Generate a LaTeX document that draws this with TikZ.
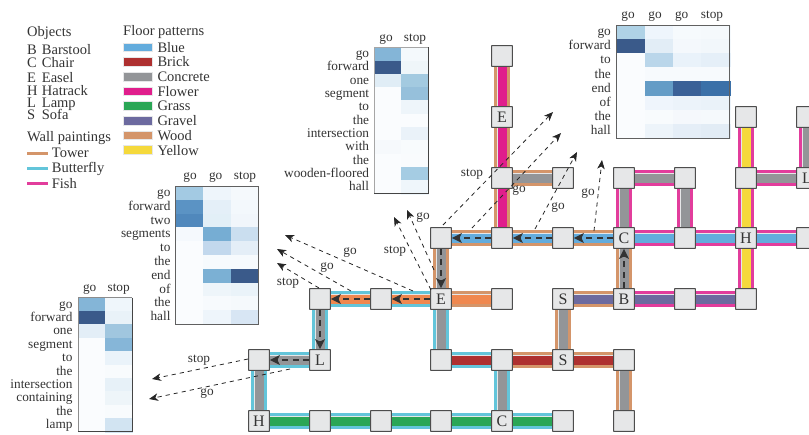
\documentclass[tikz,border=0pt]{standalone}
\usepackage{fontspec}
\setmainfont{Liberation Serif}
\usetikzlibrary{arrows.meta,calc}
\definecolor{txt}{HTML}{333333}
\definecolor{tower}{HTML}{D4956A}
\definecolor{butterfly}{HTML}{63C5DA}
\definecolor{fish}{HTML}{E23D9C}
\definecolor{fblue}{HTML}{63ACDD}
\definecolor{fbrick}{HTML}{AE3030}
\definecolor{fconcrete}{HTML}{939598}
\definecolor{fflower}{HTML}{E01E8C}
\definecolor{fgrass}{HTML}{2AA655}
\definecolor{fgravel}{HTML}{6C6A9F}
\definecolor{fwood}{HTML}{D4956A}
\definecolor{forange}{HTML}{F0884F}
\definecolor{fyellow}{HTML}{F5D93C}
\definecolor{halo}{HTML}{E6E7E8}
\definecolor{roomfill}{HTML}{E6E7E8}
\definecolor{roomline}{HTML}{4D4D4D}
\definecolor{hdark}{HTML}{444444}
\pgfdeclarelayer{corridors}
\pgfsetlayers{corridors,main}
\tikzset{
  x=1pt,y=-1pt,
  every node/.style={text=txt},
  room/.style={draw=roomline,fill=roomfill,line width=1.1pt,minimum size=20.7pt,inner sep=0pt,rounded corners=0.3pt,
    font=\fontsize{16}{16}\selectfont},
  legendhead/.style={anchor=base west,inner sep=0pt,font=\fontsize{14.5}{16}\selectfont},
  legendtext/.style={anchor=base west,inner sep=0pt,font=\fontsize{14.5}{16}\selectfont},
  hword/.style={anchor=base east,inner sep=0pt,font=\fontsize{13.3}{15}\selectfont},
  hhead/.style={anchor=base,inner sep=0pt,font=\fontsize{13.3}{15}\selectfont},
  tag/.style={inner sep=0pt,font=\fontsize{13.3}{15}\selectfont},
  route/.style={draw=black!80,line width=1.5pt,dash pattern=on 6pt off 4.5pt,
    -{Stealth[length=10pt,width=10pt,inset=2.5pt]}},
  link/.style={draw=black!85,line width=0.8pt,dash pattern=on 4.2pt off 4pt,
    -{Stealth[length=9pt,width=7.5pt,inset=2.5pt]}},
}
\newcommand{\corr}[4]{%
  \draw[#1,line width=15.8pt] (#3.center) -- (#4.center);
  \draw[halo,line width=10.8pt] (#3.center) -- (#4.center);
  \draw[#2,line width=9pt] (#3.center) -- (#4.center);
}
\newcommand{\hmap}[7]{%
  \foreach \w/\cs [count=\r from 0] in {#7}{%
    \foreach \c [count=\i from 0] in \cs {%
      \definecolor{hc}{HTML}{\c}%
      \fill[hc,draw=hc,line width=0.1pt] ({#2+\i*#4},{#3+\r*#5}) rectangle +(#4,#5);
    }
    \node[hword] (#1w\r) at (#6,{#3+(\r+.5)*#5+3.6}) {\w};
  }
}
\begin{document}
\begin{tikzpicture}
\useasboundingbox (0,0) rectangle (809,434);

% ---------- legend
\node[legendhead] (lobj) at (27,36) {Objects};
\foreach \l/\n/\y [count=\k] in {B/Barstool/54,C/Chair/67.5,E/Easel/82,H/Hatrack/95,L/Lamp/107,S/Sofa/119}{
  \node[legendtext] (lol\k) at (27,\y) {\l};
  \node[legendtext] (lon\k) at (41.7,\y) {\n};
}
\node[legendhead] (lwall) at (27,141) {Wall paintings};
\foreach \n/\c/\ly/\y [count=\k] in {Tower/tower/153/157.5,Butterfly/butterfly/168/172.5,Fish/fish/183/188}{
  \draw[\c,line width=3pt] (27,\ly) -- (48,\ly);
  \node[legendtext] (lwn\k) at (51.7,\y) {\n};
}
\node[legendhead] (lfloor) at (123,35) {Floor patterns};
\foreach \n/\c/\ly/\y [count=\k] in {Blue/fblue/47.3/52,Brick/fbrick/62/66.7,Concrete/fconcrete/76.7/81.5,Flower/fflower/91.3/96,Grass/fgrass/106/110.5,Gravel/fgravel/120.7/125,Wood/fwood/135.3/140,Yellow/fyellow/150/155}{
  \fill[\c,draw=halo,line width=0.9pt] (123.5,{\ly-4.3}) rectangle (152.7,{\ly+4.3});
  \node[legendtext] (lfn\k) at (157.3,\y) {\n};
}

% ---------- heat maps
\hmap{ha}{78.3}{297.7}{26.85}{13.4}{72.7}{%
  go/{84B5D7,EFF6FB},forward/{3A5A8A,E9F2F8},one/{E3EEF7,A0C6DF},segment/{FAFCFE,86B6D8},to/{FAFCFE,EAF3FA},%
  the/{FAFCFE,F8FBFD},intersection/{FAFCFE,E7F1F8},containing/{FAFCFE,EEF5F9},the/{FAFCFE,F8FBFD},lamp/{FAFCFE,D2E4F2}}
\draw[black!45,line width=0.9pt] (78.3,431.7) -- (78.3,297.7) -- (132,297.7);
\draw[hdark,line width=1pt] (132,297.7) -- (132,431.7) -- (78.3,431.7);
\node[hhead] (hah1) at (89.7,291.5) {go};
\node[hhead] (hah2) at (118.7,291.5) {stop};

\hmap{hb}{175.7}{186}{27.53}{13.8}{170.7}{%
  go/{A3CAE3,EEF5FB,F5F9FC},forward/{5B93C4,E4EFF8,F3F8FC},two/{5088BC,E2EFF7,F1F6FB},segments/{F5F9FD,76ADD3,CADEEF},%
  to/{FAFCFE,C2D8ED,E4EEF7},the/{FAFCFE,F6FAFD,F6FAFD},end/{FAFCFE,7BB0D4,3A5A8A},of/{FAFCFE,EEF5FA,EAF3F9},%
  the/{FAFCFE,F7FAFD,F5F9FC},hall/{FAFCFE,EEF5FB,D8E6F4}}
\draw[hdark!85,line width=1pt] (175.7,186) rectangle (258.3,324);
\node[hhead] (hbh1) at (190,179.5) {go};
\node[hhead] (hbh2) at (215.7,179.5) {go};
\node[hhead] (hbh3) at (245,179.5) {stop};

\hmap{hc}{374.3}{47.3}{26.85}{13.31}{369.3}{%
  go/{84B5D7,F4F9FC},forward/{3A5A8A,EFF6F9},one/{E0EDF6,A3CAE0},segment/{FAFCFE,96C0DB},to/{FAFCFE,EEF5FA},the/{FAFCFE,FAFCFE},%
  intersection/{FAFCFE,EAF2F9},with/{F6F9FC,F8FBFD},the/{FAFCFE,F9FBFD},wooden-floored/{FAFCFE,A5CCE3},hall/{FAFCFE,EFF6FB}}
\draw[black!35,line width=0.9pt] (374.3,193.7) -- (374.3,47.3) -- (428,47.3);
\draw[hdark,line width=1pt] (428,47.3) -- (428,193.7) -- (374.3,193.7);
\node[hhead] (hch1) at (386,41) {go};
\node[hhead] (hch2) at (415,41) {stop};

\hmap{hd}{616.7}{25}{28.25}{14.125}{611}{%
  go/{AFD2E6,EEF5FC,F6FAFD,F5F9FC},forward/{3A5A8A,E2EDF6,F4F8FC,F2F7FB},to/{FAFCFE,BAD6EA,E9F2FA,E5EFF8},the/{FAFCFE,F7FAFD,F7FAFD,F7FAFD},%
  end/{FAFCFE,649CC6,3B6197,3B70A8},of/{FAFCFE,EFF5FC,ECF3FA,EAF2F9},the/{FAFCFE,F8FBFD,F5F8FC,F5F9FC},hall/{FAFCFE,EDF4FA,E5EEF7,E2ECF5}}
\draw[hdark!85,line width=1pt] (616.7,25) rectangle (729.7,138);
\node[hhead] (hdh1) at (628,18.5) {go};
\node[hhead] (hdh2) at (655,18.5) {go};
\node[hhead] (hdh3) at (681.7,18.5) {go};
\node[hhead] (hdh4) at (712,18.5) {stop};

% ---------- rooms
\foreach \nm/\x/\y/\t in {
  a/502/56/{},b/502/117/E,c/502/178/{},d/563/178/{},e/624/178/{},f/685/178/{},
  g/746/117/{},h/746/178/{},i/807/117/{},j/807/178/L,
  k/441/238/{},l/502/238/{},m/563/238/{},n/624/238/C,o/685/238/{},p/746/238/H,q/807/238/{},
  r/320/299/{},s/381/299/{},t/441/299/E,u/502/299/{},v/563/299/S,w/624/299/B,x/685/299/{},y/746/299/{},
  aa/259/360/{},ab/320/360/L,ac/441/360/{},ad/502/360/{},ae/563/360/S,af/624/360/{},
  ag/259/421/H,ah/320/421/{},ai/381/421/{},aj/441/421/{},ak/502/421/C,al/563/421/{},am/624/421/{}}{
  \node[room] (\nm) at (\x,\y) {\t};
}

% ---------- corridors
\begin{pgfonlayer}{corridors}
\corr{tower}{fflower}{a}{b}
\corr{tower}{fflower}{b}{c}
\corr{tower}{fflower}{c}{l}
\corr{tower}{fconcrete}{c}{d}
\corr{tower}{fblue}{k}{l}
\corr{tower}{fblue}{l}{m}
\corr{tower}{fblue}{m}{n}
\corr{fish}{fblue}{n}{o}
\corr{fish}{fblue}{o}{p}
\corr{fish}{fblue}{p}{q}
\corr{fish}{fconcrete}{e}{f}
\corr{fish}{fconcrete}{e}{n}
\corr{fish}{fconcrete}{f}{o}
\corr{fish}{fyellow}{g}{h}
\corr{fish}{fyellow}{h}{p}
\corr{fish}{fyellow}{p}{y}
\corr{fish}{fconcrete}{h}{j}
\corr{fish}{fconcrete}{i}{j}
\corr{tower}{fconcrete}{n}{w}
\corr{tower}{fgravel}{v}{w}
\corr{fish}{fgravel}{w}{x}
\corr{fish}{fgravel}{x}{y}
\corr{tower}{fconcrete}{v}{ae}
\corr{tower}{fbrick}{ad}{ae}
\corr{tower}{fbrick}{ae}{af}
\corr{butterfly}{fbrick}{ac}{ad}
\corr{tower}{fconcrete}{af}{am}
\corr{butterfly}{fconcrete}{ad}{ak}
\corr{butterfly}{fgrass}{ak}{al}
\corr{butterfly}{fgrass}{aj}{ak}
\corr{butterfly}{fgrass}{ai}{aj}
\corr{butterfly}{fgrass}{ah}{ai}
\corr{butterfly}{fgrass}{ag}{ah}
\corr{butterfly}{fconcrete}{aa}{ag}
\corr{butterfly}{fconcrete}{aa}{ab}
\corr{butterfly}{fconcrete}{r}{ab}
\corr{butterfly}{forange}{r}{s}
\corr{butterfly}{forange}{s}{t}
\corr{tower}{fconcrete}{k}{t}
\corr{tower}{forange}{t}{u}
\corr{butterfly}{fconcrete}{t}{ac}
\end{pgfonlayer}

% ---------- route arrows
\draw[route] (n.west) -- (m.east);
\draw[route] (m.west) -- (l.east);
\draw[route] (l.west) -- (k.east);
\draw[route] (w.north) -- (n.south);
\draw[route] (k.south) -- (t.north);
\draw[route] (t.west) -- (s.east);
\draw[route] (s.west) -- (r.east);
\draw[route] (r.south) -- (ab.north);
\draw[route] (ab.west) -- (aa.east);

% ---------- links to the heat maps
\foreach \nm/\tx/\ty/\hx/\hy in {
  la/248/359/152/379, lb/290/369/149/399,
  lc/319/288/277/263, ld/351/291/277/249, le/413/291/285/235,
  lf/431/290/394/217, lg/434/270/407/210,
  lh/443/225/553/112, li/472/228/561/133, lj/535/229/577/152, lk/594/231/602/160}{
  \coordinate (\nm t) at (\tx,\ty);
  \coordinate (\nm h) at (\hx,\hy);
  \draw[link] (\nm t) -- (\nm h);
}
\foreach \nm/\x/\y/\t in {
  ta/199/360/stop, tb/207/394/go,
  tc/288/283/stop, td/327/268/go, te/350/253/go,
  tf/395/251/stop, tg/423/218/go,
  th/472/174/stop, ti/519/191/go, tj/558/208/go, tk/588/194/go}{
  \node[tag] (\nm) at (\x,\y) {\t};
}
\end{tikzpicture}
\end{document}
